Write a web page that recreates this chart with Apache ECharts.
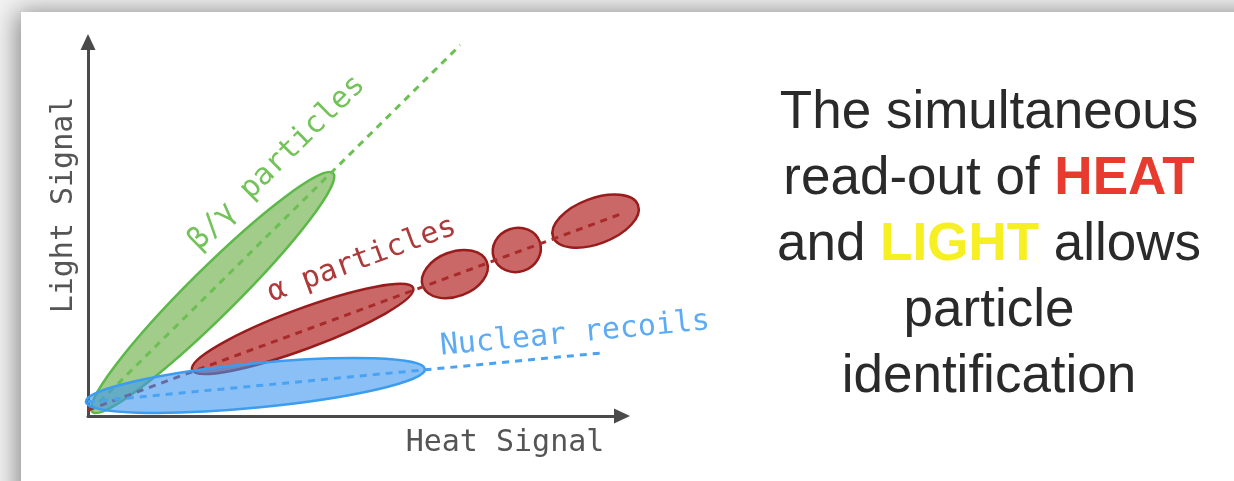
<!DOCTYPE html>
<html>
<head>
<meta charset="utf-8">
<script src="https://cdn.jsdelivr.net/npm/echarts@6/dist/echarts.min.js"></script>
<style>
    html, body { margin: 0; padding: 0; }
    #main { width: 1234px; height: 481px; }
</style>
</head>
<body>
<div id="main"></div>
<script>
    // bands: [x1, y1, x2, y2, thickness / length]
    var gammaBands = [[0.8, 1.1, 45.9, 65.3, 0.14]];
    var alphaBands = [
        [19.5, 12.4, 60.9, 34.4, 0.17],
        [62.7, 34.9, 74.7, 41.4, 0.65],
        [76.0, 42.5, 84.6, 46.8, 0.9],
        [87.1, 48.1, 103.0, 56.7, 0.5]
    ];
    var recoilBands = [[-0.4, 3.8, 63.1, 12.6, 0.13]];

    // trend lines through each population
    var gammaTrend = [[0.4, 1.3], [69.7, 99.7]];
    var alphaTrend = [[0, 1.6], [115.5, 62.6]];
    var recoilTrend = [[0, 3.8], [95.9, 16.9]];

    var labelText = ['β/γ particles', 'α particles', 'Nuclear recoils'];
    var labelAt = [[35.4, 68.0], [51.3, 41.9], [91.2, 22.0]];

    var trends = [gammaTrend, alphaTrend, recoilTrend];
    var labelColors = ['#74c25a', '#ad3a3a', '#5eabf5'];
    var mono = '"DejaVu Sans Mono", monospace';

    function bandSeries(data, fill, stroke, z) {
        return {
            type: 'custom',
            coordinateSystem: 'cartesian2d',
            silent: true,
            z: z,
            encode: { x: [0, 2], y: [1, 3] },
            data: data,
            renderItem: function (params, api) {
                var p1 = api.coord([api.value(0), api.value(1)]);
                var p2 = api.coord([api.value(2), api.value(3)]);
                var dx = p2[0] - p1[0], dy = p1[1] - p2[1];
                var rx = Math.sqrt(dx * dx + dy * dy) / 2;
                return {
                    type: 'ellipse',
                    x: (p1[0] + p2[0]) / 2,
                    y: (p1[1] + p2[1]) / 2,
                    rotation: Math.atan2(dy, dx),
                    shape: { cx: 0, cy: 0, rx: rx, ry: rx * api.value(4) },
                    style: { fill: fill, stroke: stroke, lineWidth: 2.5 }
                };
            }
        };
    }

    function trendSeries(data, color, z) {
        return {
            type: 'line',
            data: data,
            symbol: 'none',
            clip: false,
            silent: true,
            z: z,
            lineStyle: { color: color, width: 3, type: [7, 6] }
        };
    }

    var chart = echarts.init(document.getElementById('main'));
    var option = {
        backgroundColor: '#f3f3f3',
        animation: false,
        grid: { left: 88, top: 44, right: 612, bottom: 65 },
        xAxis: {
            type: 'value', min: 0, max: 100,
            name: 'Heat Signal',
            nameLocation: 'middle',
            nameGap: 12,
            nameTextStyle: { fontFamily: mono, fontSize: 30, color: '#555', padding: [0, 0, 0, 300] },
            axisLine: {
                lineStyle: { color: '#4a4a4a', width: 3 },
                symbol: ['none', 'triangle'], symbolSize: [15, 16], symbolOffset: [0, 0]
            },
            axisTick: { show: false }, axisLabel: { show: false }, splitLine: { show: false }
        },
        yAxis: {
            type: 'value', min: 0, max: 100,
            name: 'Light Signal',
            nameLocation: 'middle',
            nameGap: 9,
            nameRotate: 90,
            nameTextStyle: { fontFamily: mono, fontSize: 30, color: '#555', padding: [0, 0, 0, 50] },
            axisLine: {
                lineStyle: { color: '#4a4a4a', width: 3 },
                symbol: ['none', 'triangle'], symbolSize: [15, 16], symbolOffset: [0, 2]
            },
            axisTick: { show: false }, axisLabel: { show: false }, splitLine: { show: false }
        },
        graphic: [
            {
                type: 'rect', z: -10, silent: true,
                shape: { x: 21, y: 12, width: 1400, height: 700 },
                style: { fill: '#fff', shadowBlur: 24, shadowColor: 'rgba(0,0,0,0.45)', shadowOffsetX: -4 }
            },
            {
                type: 'text', z: 10, x: 989, y: 245,
                style: {
                    text: '{n|The simultaneous}\n{n|read-out of }{h|HEAT}\n{n|and }{l|LIGHT}{n| allows}\n{n|particle}\n{n|identification}',
                    align: 'center',
                    verticalAlign: 'middle',
                    rich: {
                        n: { fontFamily: '"Liberation Sans", Arial', fontSize: 53, lineHeight: 66, fill: '#2a2a2a' },
                        h: { fontFamily: '"Liberation Sans", Arial', fontSize: 53, lineHeight: 66, fontWeight: 'bold', fill: '#e63b2e' },
                        l: { fontFamily: '"Liberation Sans", Arial', fontSize: 53, lineHeight: 66, fontWeight: 'bold', fill: '#f6ef22' }
                    }
                }
            }
        ],
        series: [
            bandSeries(gammaBands, 'rgba(100,170,60,0.6)', '#5cb848', 2),
            trendSeries(gammaTrend, '#6cc053', 3),
            bandSeries(alphaBands, 'rgba(180,40,40,0.7)', '#981c1c', 4),
            trendSeries(alphaTrend, '#a82a2a', 5),
            bandSeries(recoilBands, 'rgba(60,150,240,0.6)', '#3b9cf0', 6),
            trendSeries(recoilTrend, '#4aa2f2', 7),
            {
                type: 'custom',
                coordinateSystem: 'cartesian2d',
                silent: true,
                z: 8,
                data: labelAt.map(function (p, i) { return [p[0], p[1], i]; }),
                renderItem: function (params, api) {
                    var i = api.value(2);
                    var t = trends[i];
                    var a = api.coord(t[0]), b = api.coord(t[1]);
                    var p = api.coord([api.value(0), api.value(1)]);
                    return {
                        type: 'text',
                        x: p[0], y: p[1],
                        rotation: Math.atan2(a[1] - b[1], b[0] - a[0]),
                        style: {
                            text: labelText[i],
                            fill: labelColors[i],
                            fontFamily: mono,
                            fontSize: 30,
                            align: 'center',
                            verticalAlign: 'middle'
                        }
                    };
                }
            }
        ]
    };
    chart.setOption(option);
</script>
</body>
</html>
